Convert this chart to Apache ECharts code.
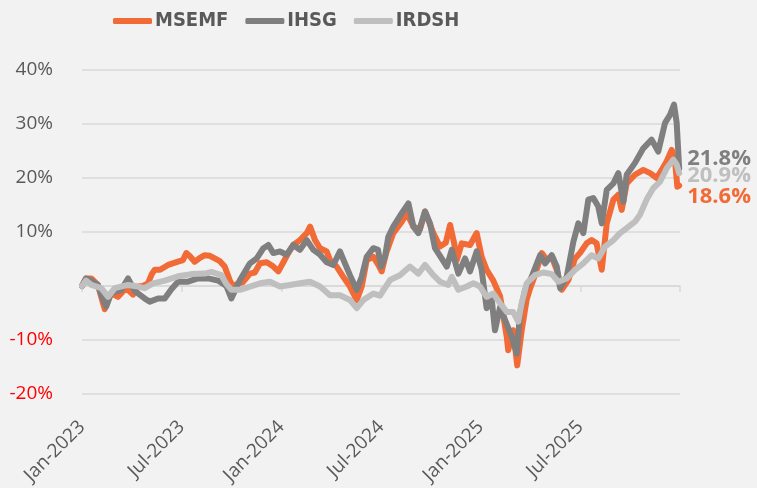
<!DOCTYPE html>
<html>
<head>
<meta charset="utf-8">
<script src="https://cdn.jsdelivr.net/npm/echarts@6/dist/echarts.min.js"></script>
<style>
  html, body { margin: 0; padding: 0; background: #f2f2f2; }
  #chart { width: 757px; height: 488px; }
</style>
</head>
<body>
<div id="chart"></div>
<script>
// x = months since Jan-2023, y = cumulative return in %
const tickLabels = ["Jan-2023", "Jul-2023", "Jan-2024", "Jul-2024", "Jan-2025", "Jul-2025", ""];

const msemf = [
  [0, 0], [0.24, 1.4], [0.56, 1.4], [0.96, 0.2], [1.2, -2.5], [1.37, -4.3], [1.5, -3.0], [1.76, -1.3],
  [2.17, -2.0], [2.53, -0.8], [2.77, -0.7], [3.07, -1.6], [3.37, -0.1], [3.67, 0.0], [3.97, 0.5],
  [4.2, 2.2], [4.38, 3.0], [4.7, 3.0], [5.18, 3.9], [5.78, 4.5], [6.08, 4.8], [6.28, 6.1], [6.5, 5.5],
  [6.78, 4.5], [7.1, 5.2], [7.39, 5.7], [7.7, 5.6], [7.99, 5.1], [8.3, 4.6], [8.59, 3.6], [8.89, 1.1],
  [9.09, -0.1], [9.4, 0.5], [9.69, 0.7], [10.11, 2.3], [10.4, 2.5], [10.72, 4.2], [11.12, 4.4],
  [11.52, 3.6], [11.82, 2.7], [12.12, 4.4], [12.4, 6.0], [12.72, 7.6], [13.12, 8.5], [13.53, 9.8],
  [13.73, 11.0], [14.03, 8.5], [14.33, 7.0], [14.73, 6.4], [14.93, 4.8], [15.33, 3.6], [15.73, 1.7],
  [16.13, -0.1], [16.54, -2.6], [16.84, -0.1], [17.14, 4.8], [17.54, 5.4], [17.82, 4.0], [18.04, 2.7],
  [18.3, 6.0], [18.74, 9.8], [19.25, 11.9], [19.55, 13.5], [19.95, 11.0], [20.35, 10.5], [20.65, 13.8],
  [21.15, 9.8], [21.55, 7.3], [21.9, 8.0], [22.16, 11.3], [22.4, 8.0], [22.56, 4.8], [22.86, 7.9],
  [23.36, 7.6], [23.76, 9.8], [24.06, 5.4], [24.36, 3.0], [24.76, 1.0], [25.17, -1.9], [25.57, -9.4],
  [25.66, -11.9], [25.96, -8.2], [26.2, -14.7], [26.47, -8.2], [26.77, -2.5], [26.97, -0.5],
  [27.27, 2.0], [27.68, 6.1], [27.98, 4.8], [28.28, 5.4], [28.58, 3.0], [28.88, -0.7], [29.28, 1.1],
  [29.68, 5.1], [29.98, 6.1], [30.38, 7.9], [30.68, 8.5], [30.98, 7.9], [31.29, 3.0], [31.59, 11.6],
  [31.99, 16.0], [32.29, 16.9], [32.49, 14.1], [32.79, 19.0], [33.29, 20.6], [33.79, 21.5],
  [34.2, 20.9], [34.6, 20.0], [34.9, 21.5], [35.2, 23.1], [35.5, 25.2], [35.7, 23.1], [35.84, 18.4],
  [35.95, 18.6]
];

const ihsg = [
  [0, 0], [0.24, 1.4], [0.56, 1.0], [0.96, 0.2], [1.2, -2.0], [1.46, -3.8], [1.76, -1.3], [2.37, -0.7],
  [2.77, 1.4], [3.17, -0.9], [3.77, -2.3], [4.08, -2.9], [4.58, -2.3], [4.98, -2.3], [5.38, -0.6],
  [5.78, 0.8], [6.38, 0.8], [6.98, 1.4], [7.59, 1.4], [8.19, 1.0], [8.69, 0.0], [8.99, -2.3],
  [9.1, -2.6], [9.51, 1.1], [10.11, 4.2], [10.52, 5.1], [10.92, 7.0], [11.22, 7.6], [11.52, 6.1],
  [11.92, 6.4], [12.32, 5.8], [12.72, 7.6], [13.12, 6.7], [13.53, 8.5], [13.93, 6.7], [14.33, 5.8],
  [14.73, 4.4], [15.13, 3.9], [15.53, 6.4], [15.83, 4.2], [16.13, 2.0], [16.54, -0.7], [16.84, 1.7],
  [17.14, 5.4], [17.54, 7.0], [17.82, 6.7], [18.0, 3.6], [18.24, 5.4], [18.44, 9.1], [18.74, 11.0],
  [19.25, 13.5], [19.65, 15.3], [19.95, 11.0], [20.25, 9.8], [20.65, 13.8], [20.95, 11.6],
  [21.25, 7.0], [21.65, 5.1], [21.96, 3.6], [22.26, 6.7], [22.66, 2.3], [23.06, 5.1], [23.36, 2.7],
  [23.76, 6.4], [24.06, 3.0], [24.36, -4.1], [24.67, -2.6], [24.86, -8.2], [25.17, -3.9],
  [25.47, -6.3], [25.87, -9.4], [26.17, -12.5], [26.37, -5.0], [26.67, -0.7], [27.07, 1.7],
  [27.58, 5.7], [27.88, 4.2], [28.28, 5.7], [28.58, 3.6], [28.78, -0.4], [29.18, 1.7], [29.58, 8.2],
  [29.88, 11.6], [30.18, 9.8], [30.48, 16.0], [30.78, 16.3], [31.08, 14.7], [31.29, 11.6],
  [31.59, 17.8], [31.99, 19.0], [32.29, 20.9], [32.59, 15.6], [32.79, 20.6], [33.29, 22.8],
  [33.79, 25.5], [34.29, 27.1], [34.69, 24.9], [35.1, 30.2], [35.4, 31.7], [35.64, 33.6],
  [35.8, 30.2], [35.95, 21.8]
];

const irdsh = [
  [0, 0], [0.24, 1.0], [0.56, 0.2], [1.16, -0.4], [1.57, -2.0], [1.97, -0.4], [2.77, 0.2], [3.37, -0.1],
  [3.77, -0.4], [4.27, 0.5], [4.98, 1.0], [5.78, 1.8], [6.58, 2.2], [7.39, 2.3], [7.79, 2.6],
  [8.39, 2.0], [8.67, 0.5], [8.99, -0.7], [9.51, -0.7], [10.11, -0.1], [10.72, 0.5], [11.32, 0.8],
  [11.92, -0.1], [12.52, 0.2], [13.12, 0.5], [13.73, 0.8], [14.33, -0.1], [14.93, -1.7], [15.53, -1.7],
  [16.13, -2.6], [16.54, -4.1], [16.94, -2.6], [17.54, -1.4], [17.94, -1.8], [18.54, 1.1], [19.14, 2.0],
  [19.74, 3.6], [20.25, 2.3], [20.65, 3.9], [21.15, 2.0], [21.55, 0.8], [22.05, 0.2], [22.26, 1.7],
  [22.66, -0.7], [23.16, -0.1], [23.56, 0.5], [23.96, -0.1], [24.36, -2.0], [24.76, -1.4],
  [25.17, -3.2], [25.57, -4.8], [25.96, -4.8], [26.26, -6.6], [26.47, -3.2], [26.77, 0.5],
  [27.27, 2.0], [27.77, 2.5], [28.28, 2.2], [28.68, 0.8], [29.18, 1.4], [29.68, 3.0], [30.18, 4.2],
  [30.68, 5.7], [31.08, 5.1], [31.49, 7.3], [31.99, 8.5], [32.39, 9.8], [32.79, 10.7], [33.29, 11.9],
  [33.59, 13.2], [33.99, 16.0], [34.39, 18.1], [34.79, 19.3], [35.2, 21.8], [35.6, 23.4],
  [35.8, 22.5], [35.95, 20.9]
];

const names = ["MSEMF", "IHSG", "IRDSH"];
const colors = ["#f26a36", "#7f7f7f", "#bfbfbf"];
const labelShift = [11, -10, 3];

const chart = echarts.init(document.getElementById("chart"));

const series = [msemf, ihsg, irdsh].map((d, i) => {
  return {
    name: names[i],
    type: "line",
    data: d,
    xAxisIndex: 0,
    showSymbol: false,
    symbol: "none",
    color: colors[i],
    lineStyle: { width: 6, color: colors[i], join: "round", cap: "round" },
    emphasis: { disabled: true },
    endLabel: {
      show: true,
      formatter: (p) => p.value[1].toFixed(1) + "%",
      color: colors[i],
      fontFamily: "Open Sans",
      fontWeight: "bold",
      fontSize: 22,
      distance: 8,
      offset: [0, labelShift[i]],
    },
  };
});

chart.setOption({
  backgroundColor: "#f2f2f2",
  animation: false,
  legend: {
    left: 108,
    top: 6,
    icon: "roundRect",
    itemWidth: 39,
    itemHeight: 6,
    itemGap: 17,
    textStyle: {
      color: "#595959",
      fontSize: 20,
      fontWeight: "bold",
      fontFamily: "Liberation Sans Narrow, DejaVu Sans Condensed, sans-serif",
      padding: [0, 0, 0, -2],
    },
    data: names,
  },
  grid: { left: 82, right: 77, top: 70, bottom: 94 },
  xAxis: [
    {
      type: "value",
      min: 0,
      max: 36,
      interval: 6,
      position: "bottom",
      axisLine: { show: false, onZero: false },
      axisTick: { show: false },
      splitLine: { show: false },
      axisLabel: {
        rotate: 45,
        margin: 30,
        color: "#595959",
        fontSize: 19,
        fontFamily: "Open Sans",
        formatter: (v) => tickLabels[Math.round(v / 6)],
      },
    },
    {
      type: "value",
      min: 0,
      max: 36,
      interval: 6,
      position: "top",
      axisLine: { show: true, onZero: true, lineStyle: { color: "#d9d9d9", width: 1.5 } },
      axisTick: { show: true, inside: true, length: 6, lineStyle: { color: "#d9d9d9", width: 1.5 } },
      axisLabel: { show: false },
      splitLine: { show: false },
    },
  ],
  yAxis: {
    type: "value",
    min: -20,
    max: 40,
    interval: 10,
    axisLine: { show: false },
    axisTick: { show: false },
    splitLine: { lineStyle: { color: "#d9d9d9", width: 1.5 } },
    axisLabel: {
      margin: 29,
      fontSize: 19,
      fontFamily: "Open Sans",
      color: (v) => (v < 0 ? "#ff0000" : "#595959"),
      formatter: (v) => (v === 0 ? "" : v + "%"),
    },
  },
  series: series,
});
</script>
</body>
</html>
